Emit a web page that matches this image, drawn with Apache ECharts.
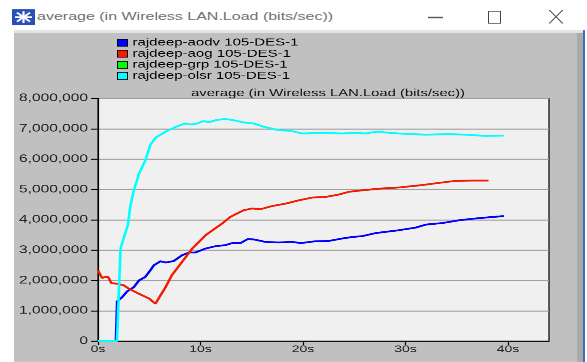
<!DOCTYPE html>
<html>
<head>
<meta charset="utf-8">
<script src="https://cdn.jsdelivr.net/npm/echarts@6/dist/echarts.min.js"></script>
<style>
html,body{margin:0;padding:0;width:587px;height:362px;overflow:hidden;background:#fff;}
#wrap{position:absolute;left:0;top:0;width:587px;height:517.14px;transform:scaleY(0.7);transform-origin:0 0;}
.abs{position:absolute;}
</style>
</head>
<body>
<div id="wrap">
  <div class="abs" style="left:0;top:0;width:587px;height:42.86px;background:#fff;"></div>
  <svg class="abs" style="left:12px;top:12.9px;" width="23" height="22.9" viewBox="0 0 23 23" preserveAspectRatio="none">
    <rect x="0" y="0" width="23" height="23" fill="#2a4fb8"/>
    <g stroke="#fff" stroke-width="2.2">
      <line x1="11.5" y1="3" x2="11.5" y2="20"/>
      <line x1="3" y1="11.5" x2="20" y2="11.5"/>
      <line x1="5" y1="5" x2="18" y2="18"/>
      <line x1="18" y1="5" x2="5" y2="18"/>
    </g>
  </svg>
  <div class="abs" id="wtitle" style="left:37px;top:12px;font-family:'Liberation Sans',Arial,sans-serif;font-size:16px;color:#707070;white-space:nowrap;line-height:24px;">average (in Wireless LAN.Load (bits/sec))</div>
  <div class="abs" style="left:428px;top:24px;width:15px;height:1.6px;background:#555;"></div>
  <div class="abs" style="left:488px;top:16px;width:11px;height:15.7px;border:1px solid #444;border-top-width:1.4px;border-bottom-width:1.4px;"></div>
  <svg class="abs" style="left:549px;top:14px;" width="14" height="20" viewBox="0 0 14 20" preserveAspectRatio="none">
    <line x1="0" y1="0" x2="14" y2="20" stroke="#555" stroke-width="1.2"/>
    <line x1="14" y1="0" x2="0" y2="20" stroke="#555" stroke-width="1.2"/>
  </svg>
  <div class="abs" style="left:14px;top:42.86px;width:569px;height:4.3px;background:#e4e4e4;"></div>
  <div class="abs" style="left:14px;top:47.14px;width:563px;height:470px;background:#c0c0c0;"></div>
  <div class="abs" style="left:577px;top:47.14px;width:6px;height:470px;background:#aaaaaa;"></div>
  <div class="abs" style="left:583px;top:42.86px;width:2px;height:475px;background:#3a6fbf;"></div>
  <div class="abs" id="chart" style="left:0;top:0;width:587px;height:517.14px;"></div>
</div>
<script>
// ---- data (time in seconds, load in bits/sec) ----
const seriesNames = ['rajdeep-aodv 105-DES-1', 'rajdeep-aog 105-DES-1', 'rajdeep-grp 105-DES-1', 'rajdeep-olsr 105-DES-1'];
const seriesColors = ['#0000ff', '#f41c00', '#00ff00', '#00ffff'];
const xTickValues = [0, 10, 20, 30, 40];

const timeAodv = [0,1.75,1.87,2.36,2.85,3.5,4.0,4.6,5.1,5.45,6.1,6.6,7.4,8.2,8.9,9.5,10.5,11.5,12.4,13.1,13.9,14.6,15.2,16.3,17.6,18.9,19.8,21.2,22.5,23.8,24.8,25.8,27.1,29.3,31.0,32.0,33.6,35.2,36.8,38.5,39.6];
const loadAodv = [0,0,1.31e6,1.45e6,1.64e6,1.78e6,2.0e6,2.11e6,2.33e6,2.5e6,2.63e6,2.59e6,2.64e6,2.83e6,2.92e6,2.92e6,3.05e6,3.13e6,3.16e6,3.23e6,3.23e6,3.36e6,3.35e6,3.27e6,3.25e6,3.27e6,3.23e6,3.29e6,3.30e6,3.38e6,3.43e6,3.46e6,3.56e6,3.65e6,3.74e6,3.84e6,3.89e6,3.98e6,4.04e6,4.09e6,4.12e6];

const timeAog = [0,0.4,0.66,1.0,1.3,1.87,2.5,3.0,4.0,5.0,5.6,6.1,6.6,7.2,8.2,9.2,10.5,11.5,12.1,12.9,14.2,15.0,15.9,17.0,18.3,19.6,20.9,22.2,23.5,24.5,25.8,27.7,29.3,31.6,33.2,34.9,36.5,38.1];
const loadAog = [2.33e6,2.08e6,2.11e6,2.11e6,1.91e6,1.89e6,1.84e6,1.73e6,1.56e6,1.40e6,1.23e6,1.51e6,1.78e6,2.17e6,2.61e6,3.05e6,3.49e6,3.73e6,3.87e6,4.09e6,4.31e6,4.37e6,4.35e6,4.45e6,4.53e6,4.64e6,4.73e6,4.75e6,4.83e6,4.92e6,4.97e6,5.03e6,5.06e6,5.14e6,5.21e6,5.28e6,5.29e6,5.29e6];

const timeGrp = [];
const loadGrp = [];

const timeOlsr = [0,1.85,2.2,2.6,2.9,3.17,3.5,4.0,4.63,5.1,5.6,6.6,7.6,8.5,8.9,9.5,10.3,10.8,11.5,12.4,13.2,14.1,15.2,16.2,17.6,18.8,19.9,22.0,23.8,25.1,26.1,27.1,29.3,32.0,34.2,35.9,37.8,39.6];
const loadOlsr = [0,0,3.05e6,3.5e6,3.8e6,4.48e6,4.97e6,5.52e6,5.96e6,6.46e6,6.70e6,6.90e6,7.06e6,7.17e6,7.14e6,7.15e6,7.25e6,7.21e6,7.28e6,7.32e6,7.28e6,7.21e6,7.17e6,7.06e6,6.95e6,6.93e6,6.84e6,6.86e6,6.84e6,6.86e6,6.84e6,6.90e6,6.84e6,6.80e6,6.82e6,6.80e6,6.76e6,6.77e6];

const chartTitle = 'average (in Wireless LAN.Load (bits/sec))';

function pairs(t, v) { return t.map((x, i) => [x, v[i]]); }
const allTimes = [timeAodv, timeAog, timeGrp, timeOlsr];
const allLoads = [loadAodv, loadAog, loadGrp, loadOlsr];

const FONT = "'Liberation Sans', Arial, sans-serif";
const chart = echarts.init(document.getElementById('chart'), null, {renderer: 'canvas', devicePixelRatio: 2});
chart.setOption({
  animation: false,
  backgroundColor: 'transparent',
  title: {
    text: chartTitle,
    left: 323, top: 121, textAlign: 'center',
    textStyle: {fontFamily: FONT, fontSize: 14.8, fontWeight: 'normal', color: '#111'}
  },
  legend: {
    orient: 'vertical', left: 112, top: 48.5, icon: 'rect',
    itemWidth: 10, itemHeight: 10, itemGap: 0.8,
    itemStyle: {borderColor: '#000', borderWidth: 1},
    textStyle: {fontFamily: FONT, fontSize: 15, color: '#000', lineHeight: 15},
    data: seriesNames
  },
  grid: {
    left: 98, right: 38, top: 140.4, bottom: 29.7,
    show: true, backgroundColor: '#f0f0f0', borderColor: '#000', borderWidth: 1.2
  },
  xAxis: {
    type: 'value', min: 0, max: 44, interval: 10,
    axisLine: {show: true, lineStyle: {color: '#000', width: 1.4}},
    axisTick: {show: true, length: 5.7, customValues: xTickValues, lineStyle: {color: '#000', width: 1.2}},
    axisLabel: {customValues: xTickValues, formatter: v => v + 's', fontFamily: FONT, fontSize: 14, color: '#222', margin: 5},
    splitLine: {show: false}
  },
  yAxis: {
    type: 'value', min: 0, max: 8000000, interval: 1000000,
    axisLine: {show: true, lineStyle: {color: '#000', width: 1.2}},
    axisTick: {show: true, length: 7, lineStyle: {color: '#000', width: 1.4}},
    axisLabel: {formatter: v => v.toLocaleString('en-US'), fontFamily: FONT, fontSize: 15.5, color: '#222', margin: 10},
    splitLine: {show: true, lineStyle: {color: '#a0a0a0', width: 1.4}}
  },
  series: seriesNames.map((name, i) => ({
    name: name, type: 'line', data: pairs(allTimes[i], allLoads[i]),
    showSymbol: false, symbol: 'none', color: seriesColors[i],
    lineStyle: {width: 2.6, color: seriesColors[i]},
    itemStyle: {color: seriesColors[i]}
  }))
});
</script>
</body>
</html>
